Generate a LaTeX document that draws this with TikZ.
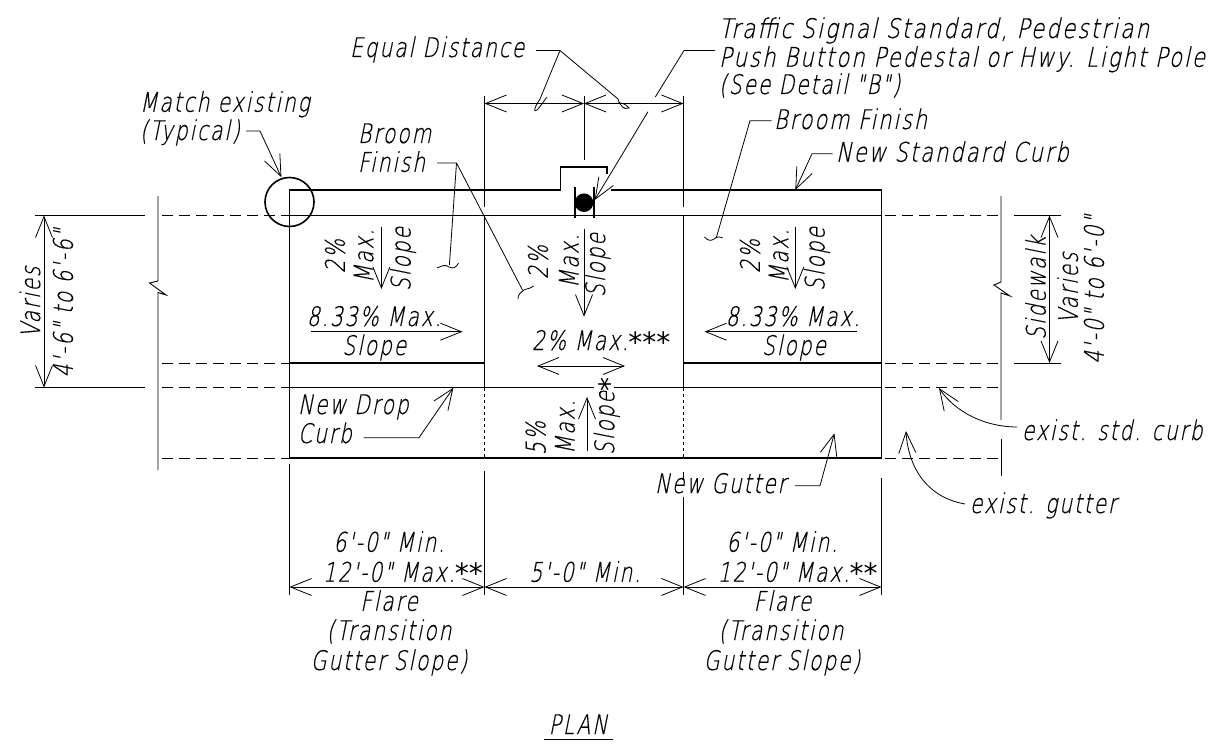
\documentclass[tikz,border=0pt]{standalone}
\usepackage{fontspec}
\usetikzlibrary{arrows.meta}
\newfontfamily\isofont[FakeSlant=0.2,FakeStretch=0.75,LetterSpace=7,FakeBold=0.4]{DejaVu Sans ExtraLight}
\newfontfamily\starfont{DejaVu Sans}
\newcommand{\stars}[2][-2pt]{{\starfont\fontsize{28}{28}\selectfont\raisebox{#1}{#2}}}
\newcommand{\dq}{'\kern-2.5pt'}
\newcommand{\wider}[2]{\scalebox{#1}[1]{#2}}
\tikzset{
  x=1pt,y=-1pt,
  barb/.tip={Straight Barb[length=21pt,width=17pt,line width=.8pt]},
  thick line/.style={line width=1.6pt,black},
  thin line/.style={line width=.9pt,black},
  dim line/.style={line width=.9pt,black,{barb}-{barb}},
  lead line/.style={line width=.8pt,black},
  lead arrow/.style={line width=.8pt,black,-{barb}},
  dash line/.style={line width=.9pt,black,dash pattern=on 11pt off 6pt},
  dot line/.style={line width=1pt,black,dash pattern=on 3pt off 3pt},
  label text/.style={inner sep=0pt,outer sep=0pt,font=\isofont\fontsize{27}{29}\selectfont},
  lab/.style={label text,anchor=base},
  labw/.style={label text,anchor=base west},
  labr/.style={label text,rotate=90,anchor=center},
}
\begin{document}
\begin{tikzpicture}
\useasboundingbox (0,0) rectangle (1229,751);
% main plan
\draw[thick line] (289.5,458) -- (289.5,190) -- (560.5,190) -- (560.5,167) -- (607,167) -- (607,174);
\draw[thick line] (611,190) -- (881.5,190) -- (881.5,458);
\draw[thick line] (289.5,215.5) -- (881.5,215.5);
\draw[thick line] (289.5,363) -- (484.5,363);
\draw[thick line] (683.5,363) -- (881.5,363);
\draw[thick line] (289.5,387.5) -- (594,387.5);
\draw[thick line] (614,387.5) -- (881.5,387.5);
\draw[thick line] (289.5,458) -- (881.5,458);
\draw[thick line] (484.5,215.5) -- (484.5,387.5);
\draw[thick line] (683.5,215.5) -- (683.5,387.5);
\draw[dot line] (484.5,387.5) -- (484.5,458);
\draw[dot line] (683.5,387.5) -- (683.5,458);
\draw[thick line] (289.5,202) circle (24.5);
% pole
\fill[black] (584,202.7) circle (9.3);
\draw[thick line] (574.7,187) -- (574.7,218);
\draw[thick line] (593.7,187) -- (593.7,218);
% extension lines
\draw[thin line] (484.5,96) -- (484.5,207);
\draw[thin line] (683.5,96) -- (683.5,207);
\draw[thin line] (584,96) -- (584,160);
\draw[thin line] (289.5,464) -- (289.5,595);
\draw[thin line] (484.5,471) -- (484.5,595);
\draw[thin line] (683.5,472) -- (683.5,480);
\draw[thin line] (683.5,497) -- (683.5,595);
\draw[thin line] (881.5,478) -- (881.5,595);
% dashes left
\draw[thin line] (35,215.5) -- (145,215.5);
\draw[thin line] (35,387.5) -- (145,387.5);
\draw[dash line] (162,215.5) -- (289.5,215.5);
\draw[dash line] (162,363) -- (289.5,363);
\draw[dash line] (162,387.5) -- (289.5,387.5);
\draw[dash line] (162,458) -- (289.5,458);
% dashes right
\draw[dash line] (885,215.5) -- (1000,215.5);
\draw[dash line] (885,363) -- (1000,363);
\draw[dash line] (885,387.5) -- (1000,387.5);
\draw[dash line] (885,458) -- (1000,458);
\draw[thin line] (1014,215.5) -- (1060.5,215.5);
\draw[thin line] (1013.5,363) -- (1060.5,363);
% break lines
\draw[thin line] (158,196) -- (158,281) -- (149.5,283) -- (166,295) -- (158,292.5) -- (158,470);
\draw[thin line] (1001,196) -- (1001,282) -- (994,285) -- (1010,296) -- (1001,293) -- (1001,420);
\draw[thin line] (1001,439) -- (1001,476);
% dimensions
\draw[dim line] (484.5,103.5) -- (584,103.5);
\draw[dim line] (584,103.5) -- (683.5,103.5);
\draw[dim line] (44,215.5) -- (44,387.5);
\draw[dim line] (1049.5,215.5) -- (1049.5,363);
\draw[dim line] (289.5,587) -- (484.5,587);
\draw[dim line] (484.5,587) -- (683.5,587);
\draw[dim line] (683.5,587) -- (881.5,587);
% slope arrows
\draw[lead arrow] (381.4,227) -- (381.4,289);
\draw[lead arrow] (584,229) -- (584,316.7);
\draw[lead arrow] (795.3,227) -- (795.3,289);
\draw[lead arrow] (311,331.7) -- (462.5,331.7);
\draw[lead arrow] (856.5,331.7) -- (704.5,331.7);
\draw[dim line] (537,366) -- (625,366);
\draw[lead arrow] (587,451) -- (587,397);
% leaders
\draw[lead line] (536,50.5) -- (560,50.5) -- (540,99) .. controls (534,108) and (533,113) .. (537,110) .. controls (540,107) and (543,102) .. (547,97);
\draw[lead line] (560,50.5) -- (618,99) .. controls (620,106) and (624,110) .. (629,108) .. controls (625,103) and (621,103) .. (618,103);
\draw[lead line] (715,50.5) -- (684,50.5) -- (655.3,97);
\draw[lead arrow] (648,111.7) -- (594.7,200);
\draw[lead arrow] (246,131) -- (260,131) -- (281.4,177.3);
\draw[lead line] (437,163) -- (456.5,163) -- (449.4,265);
\draw[lead line] (437,268) .. controls (442,266) and (445,264) .. (449,267) .. controls (453,269) and (456,268) .. (458.5,263);
\draw[lead line] (456.5,163) -- (522.5,290);
\draw[lead line] (533.6,286) .. controls (528,290) and (526,288) .. (522.5,291) .. controls (520,293) and (518,295) .. (518,299);
\draw[lead line] (771.5,120.7) -- (750,120.7) -- (716.5,237);
\draw[lead line] (704.5,237) .. controls (708,241) and (711,241) .. (714,239) .. controls (717,236) and (721,237) .. (722.7,238);
\draw[lead arrow] (832.6,153.7) -- (812,153.7) -- (795.3,190);
\draw[lead arrow] (363.6,437.7) -- (419,437.7) -- (453.4,387.7);
\draw[lead arrow] (794.8,485.7) -- (820,485.7) -- (834.4,433.3);
\draw[lead arrow] (1017,427) .. controls (985,427) and (955,412) .. (939,388);
\draw[lead arrow] (965,504) .. controls (925,497) and (908,465) .. (906,431);
% texts
\node[labw] (t1) at (350,57) {Equal Distance};
\node[labw] (t2) at (719,38) {\wider{1.07}{Traffic Signal Standard, Pedestrian}};
\node[labw] (t3) at (719,66.7) {\wider{1.05}{Push Button Pedestal or Hwy. Light Pole}};
\node[labw] (t4) at (719,94) {(See Detail \dq B\dq)};
\node[labw] (t5) at (140,111.7) {Match existing};
\node[labw] (t6) at (140,140) {(Typical)};
\node[labw] (t7) at (358,143) {Broom};
\node[labw] (t8) at (358,171.7) {Finish};
\node[labw] (t9) at (774,129) {\wider{1.03}{Broom Finish}};
\node[labw] (t10) at (836,161.7) {\wider{1.04}{New Standard Curb}};
\node[labr] (r1) at (30,302) {Varies};
\node[labr] (r2) at (63,303) {4'-6\dq\ to 6'-6\dq};
\node[labr] (r3) at (335,256) {2\%};
\node[labr] (r4) at (363.6,256) {Max.};
\node[labr] (r5) at (403,259) {Slope};
\node[labr] (r6) at (538,262) {2\%};
\node[labr] (r7) at (569,261) {Max.};
\node[labr] (r8) at (597.6,265) {Slope};
\node[labr] (r9) at (750,256) {2\%};
\node[labr] (r10) at (778.6,256) {Max.};
\node[labr] (r11) at (817,259) {Slope};
\node[labr] (r12) at (1035.6,288) {Sidewalk};
\node[labr] (r13) at (1067.7,288) {Varies};
\node[labr] (r14) at (1094,289.5) {4'-0\dq\ to 6'-0\dq};
\node[labr] (r15) at (535.6,438) {5\%};
\node[labr] (r16) at (565,427) {Max.};
\node[labr] (r17) at (606.7,416) {Slope\stars[-5pt]{*}};
\node[lab] (t11) at (374,326) {8.33\% Max.};
\node[lab] (t12) at (374.3,355) {Slope};
\node[lab] (t13) at (792.8,326) {8.33\% Max.};
\node[lab] (t14) at (794,355) {Slope};
\node[labw] (t15) at (532,350) {2\% Max.\stars{***}};
\node[labw] (t16) at (298,414) {New Drop};
\node[labw] (t17) at (298,443) {Curb};
\node[labw] (t18) at (655,493) {New Gutter};
\node[labw] (t19) at (1022,440) {exist. std. curb};
\node[labw] (t20) at (970,513) {exist. gutter};
\node[lab] (t21) at (389,551.7) {6'-0\dq\ Min.};
\node[lab] (t22) at (403,581.7) {12'-0\dq\ Max.\stars{**}};
\node[lab] (t23) at (585,581.7) {5'-0\dq\ Min.};
\node[lab] (t24) at (389,610.7) {Flare};
\node[lab] (t25) at (389,640) {(Transition};
\node[lab] (t26) at (389,670) {Gutter Slope)};
\node[lab] (t27) at (782,551.7) {6'-0\dq\ Min.};
\node[lab] (t28) at (797.7,581.7) {12'-0\dq\ Max.\stars{**}};
\node[lab] (t29) at (782.5,610.7) {Flare};
\node[lab] (t30) at (781,640) {(Transition};
\node[lab] (t31) at (782,670) {Gutter Slope)};
\node[lab] (t32) at (578,734) {PLAN};
\draw[thin line] (543.5,739.3) -- (612.6,739.3);
\end{tikzpicture}
\end{document}
